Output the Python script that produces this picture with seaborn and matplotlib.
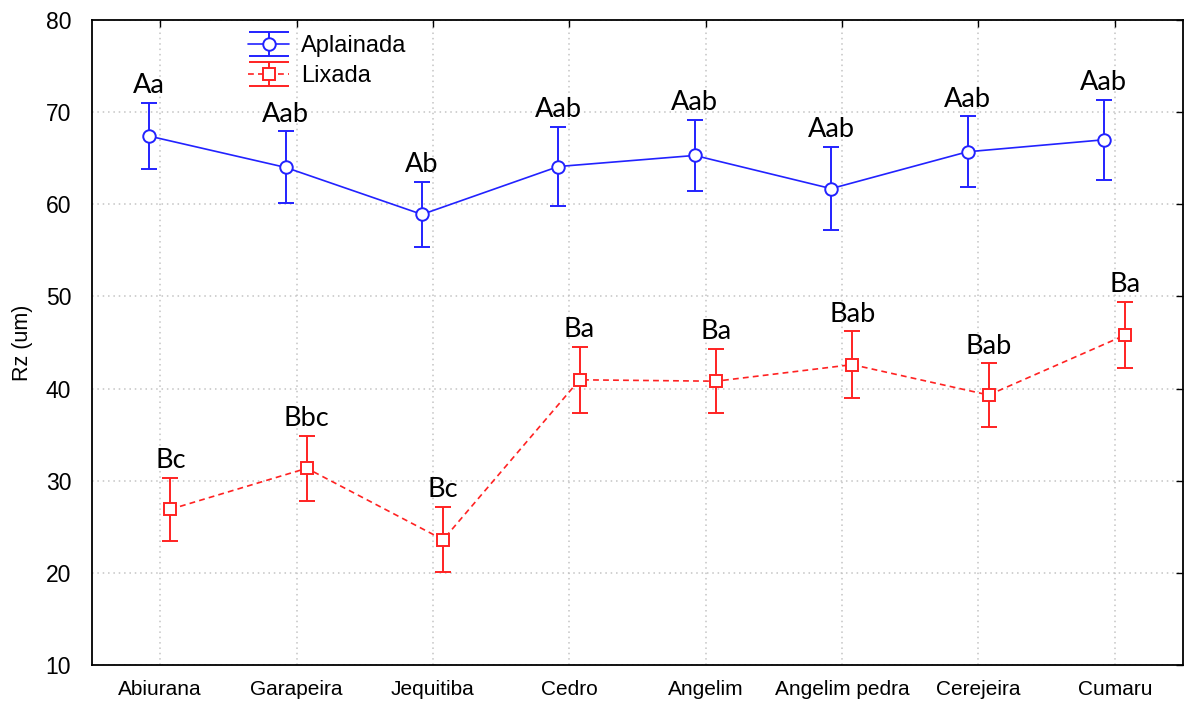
import numpy as np
import pandas as pd
import matplotlib
matplotlib.use("Agg")
import matplotlib.pyplot as plt
import seaborn as sns
from matplotlib.container import ErrorbarContainer
from matplotlib.lines import Line2D
from matplotlib.collections import LineCollection

# Wood species on the x axis
species = ["Abiurana", "Garapeira", "Jequitiba", "Cedro", "Angelim",
           "Angelim pedra", "Cerejeira", "Cumaru"]

# Planed surfaces: mean Rz and 95% confidence half-width
aplainada_mean = [67.4, 64.0, 58.9, 64.1, 65.3, 61.7, 65.7, 67.0]
aplainada_ci = [3.6, 3.9, 3.55, 4.3, 3.85, 4.5, 3.85, 4.35]
aplainada_letters = ["Aa", "Aab", "Ab", "Aab", "Aab", "Aab", "Aab", "Aab"]

# Sanded surfaces: mean Rz and 95% confidence half-width
lixada_mean = [26.9, 31.35, 23.6, 40.95, 40.8, 42.6, 39.3, 45.8]
lixada_ci = [3.4, 3.55, 3.55, 3.6, 3.5, 3.6, 3.45, 3.6]
lixada_letters = ["Bc", "Bbc", "Bc", "Ba", "Ba", "Bab", "Bab", "Ba"]

y_ticks = [10, 20, 30, 40, 50, 60, 70, 80]

sns.set_theme(style="white")
plt.rcParams["font.family"] = ["Liberation Sans", "DejaVu Sans"]
plt.rcParams.update({"text.color": "black", "axes.labelcolor": "black",
                     "xtick.color": "black", "ytick.color": "black"})

W, H = 1187, 702
fig = plt.figure(figsize=(W / 100, H / 100), dpi=100)
ax = fig.add_axes([92 / W, 37 / H, 1091 / W, 645 / H])

series = [
    ("Aplainada", aplainada_mean, aplainada_ci, aplainada_letters,
     -0.08, "#2222ff", "o", "-"),
    ("Lixada", lixada_mean, lixada_ci, lixada_letters,
     0.075, "#ff2222", "s", (0, (3.5, 2.5))),
]

LW = 1.4
handles = []
for name, mean, ci, letters, shift, color, marker, ls in series:
    pos = np.arange(len(species)) + shift
    df = pd.DataFrame({"pos": pos, "Rz": mean})
    sns.lineplot(data=df, x="pos", y="Rz", ax=ax, color=color, marker=marker,
                 markersize=9, markerfacecolor="white", markeredgecolor=color,
                 markeredgewidth=LW, linewidth=1.2, linestyle=ls,
                 errorbar=None, sort=False, zorder=4)
    ax.errorbar(pos, mean, yerr=ci, fmt="none", ecolor=color,
                elinewidth=LW, capsize=5.5, capthick=LW, zorder=3)
    for x, m, c, txt in zip(pos, mean, ci, letters):
        ax.annotate(txt, xy=(x, m + c), xytext=(0, 7),
                    textcoords="offset points", ha="center", va="baseline",
                    fontsize=19.5, family=["Lato", "DejaVu Sans"],
                    color="black")

    # legend key: line with marker, vertical bar and wide caps
    key_line = Line2D([], [], color=color, marker=marker, markersize=9,
                      markerfacecolor="white", markeredgecolor=color,
                      markeredgewidth=LW, linewidth=1.2, linestyle=ls)
    key_cap = Line2D([], [], color=color, marker="_", markersize=29,
                     markeredgewidth=LW, linestyle="none")
    key_bar = LineCollection([], colors=color, linewidths=LW)
    handles.append(ErrorbarContainer((key_line, (key_cap, key_cap),
                                      (key_bar,)),
                                     has_xerr=False, has_yerr=True,
                                     label=name))

ax.set_xlim(-0.5, len(species) - 0.5)
ax.set_ylim(10, 80)
ax.set_xticks(np.arange(len(species)))
ax.set_xticklabels(species)
ax.set_yticks(y_ticks)
ax.set_xlabel("")
ax.set_ylabel("Rz (um)", fontsize=15.5, labelpad=9)

ax.grid(True, color="#c4c4c4", linestyle=(0, (1, 2.5)), linewidth=1.1)
ax.set_axisbelow(True)
ax.tick_params(direction="in", length=5, width=1, top=True, right=True,
               colors="black")
ax.tick_params(axis="x", labelsize=15, pad=11)
ax.tick_params(axis="y", labelsize=16.5, pad=15)
for sp in ax.spines.values():
    sp.set_color("black")
    sp.set_linewidth(1.3)

leg = ax.legend(handles=handles, loc="upper left",
                bbox_to_anchor=((248 - 92) / 1091, (665 - 35) / 645),
                frameon=False, fontsize=17, handlelength=1.75,
                handletextpad=0.5, labelspacing=0.35, borderaxespad=0,
                borderpad=0)
for t in leg.get_texts():
    t.set_color("black")

fig.savefig("out.png", dpi=100)
